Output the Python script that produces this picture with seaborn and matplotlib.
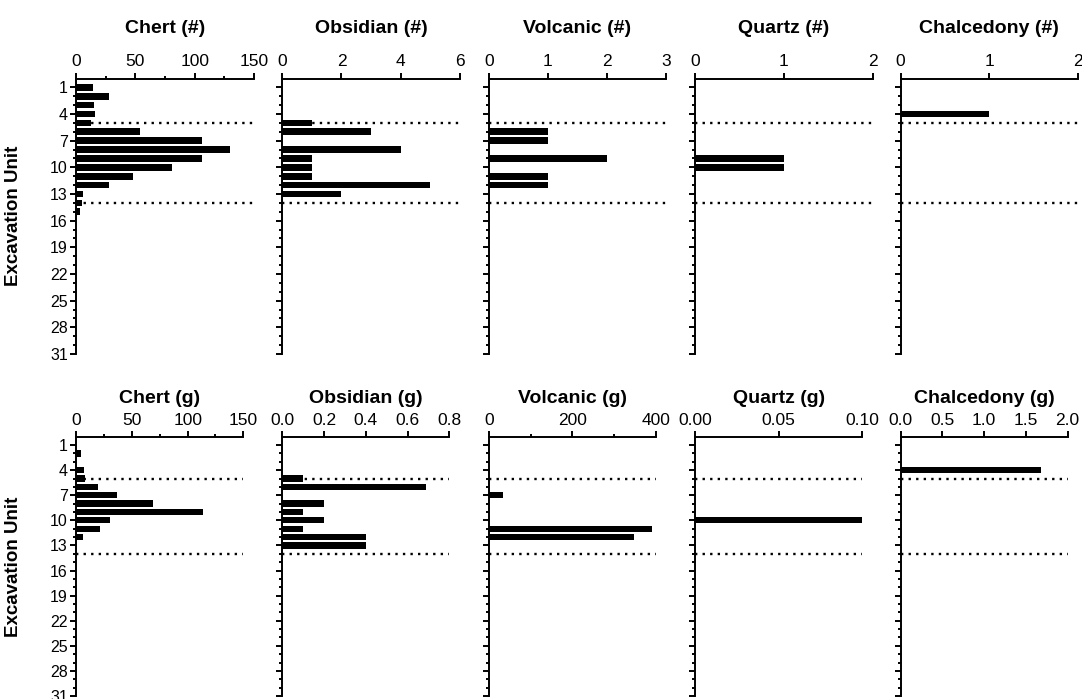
import numpy as np
import pandas as pd
import matplotlib
matplotlib.use('Agg')
import matplotlib.pyplot as plt
from matplotlib.ticker import MultipleLocator, FormatStrFormatter
import seaborn as sns

# Excavation units 1-16 (nothing recorded below 16)
units = list(range(1, 17))

# Counts (#)
chert_count = [14, 28, 15, 16, 12, 54, 106, 130, 106, 81, 48, 28, 6, 5, 3, 0]
obsidian_count = [0, 0, 0, 0, 1, 3, 0, 4, 1, 1, 1, 5, 2, 0, 0, 0]
volcanic_count = [0, 0, 0, 0, 0, 1, 1, 0, 2, 0, 1, 1, 0, 0, 0, 0]
quartz_count = [0, 0, 0, 0, 0, 0, 0, 0, 1, 1, 0, 0, 0, 0, 0, 0]
chalcedony_count = [0, 0, 0, 1, 0, 0, 0, 0, 0, 0, 0, 0, 0, 0, 0, 0]

# Weights (g)
chert_mass = [0, 4, 0, 6.6, 7.8, 19.7, 36.5, 69, 114, 30.5, 21.5, 6.3, 0, 0, 0, 0]
obsidian_mass = [0, 0, 0, 0, 0.1, 0.69, 0, 0.2, 0.1, 0.2, 0.1, 0.4, 0.4, 0, 0, 0]
volcanic_mass = [0, 0, 0, 0, 0, 0, 34, 0, 0, 0, 390, 348, 0, 0, 0, 0]
quartz_mass = [0, 0, 0, 0, 0, 0, 0, 0, 0, 0.1, 0, 0, 0, 0, 0, 0]
chalcedony_mass = [0, 0, 0, 1.68, 0, 0, 0, 0, 0, 0, 0, 0, 0, 0, 0, 0]

# stratigraphic breaks (dotted lines)
breaks = [5, 14]

top_titles = ['Chert (#)', 'Obsidian (#)', 'Volcanic (#)', 'Quartz (#)', 'Chalcedony (#)']
bottom_titles = ['Chert (g)', 'Obsidian (g)', 'Volcanic (g)', 'Quartz (g)', 'Chalcedony (g)']
top_series = [chert_count, obsidian_count, volcanic_count, quartz_count, chalcedony_count]
bottom_series = [chert_mass, obsidian_mass, volcanic_mass, quartz_mass, chalcedony_mass]

# x axis: (max, major step, minor step, label format)
top_axes = [(150, 50, 25, '%d'), (6, 2, None, '%d'), (3, 1, None, '%d'),
            (2, 1, None, '%d'), (2, 1, None, '%d')]
bottom_axes = [(150, 50, 25, '%d'), (0.8, 0.2, None, '%.1f'), (400, 200, 100, '%d'),
               (0.10, 0.05, None, '%.2f'), (2.0, 0.5, None, '%.1f')]

sns.set_theme(style='ticks')
plt.rcParams['font.family'] = ['Liberation Sans', 'DejaVu Sans']
plt.rcParams['text.color'] = 'black'
plt.rcParams['axes.labelcolor'] = 'black'
plt.rcParams['xtick.color'] = 'black'
plt.rcParams['ytick.color'] = 'black'

W, H = 1082, 699
fig = plt.figure(figsize=(W / 100, H / 100), dpi=100)

lefts = [76.3, 282.3, 488.8, 695.2, 900.5]
rows = [
    # (top px, bottom px, width px, title pad, titles, series, axis specs)
    (78.5, 354.0, 177.5, 15.5, top_titles, top_series, top_axes),
    (436.7, 696.0, 167.0, 7.0, bottom_titles, bottom_series, bottom_axes),
]

lw = 1.4
for top_px, bot_px, width_px, tpad, titles, series, specs in rows:
    for i in range(5):
        ax = fig.add_axes([lefts[i] / W, 1 - bot_px / H, width_px / W, (bot_px - top_px) / H])
        df = pd.DataFrame({'unit': units, 'value': series[i]})
        df = df[df['value'] > 0]
        for b in breaks:
            ax.axhline(b, color='black', linestyle=(0, (1, 2.2)), linewidth=1.7, zorder=1)
        sns.barplot(data=df, x='value', y='unit', orient='h', native_scale=True,
                    color='black', saturation=1, width=0.75, errorbar=None,
                    linewidth=0, ax=ax, zorder=3)

        xmax, major, minor, fmt = specs[i]
        ax.set_xlim(0, xmax)
        ax.set_ylim(31, 0)
        ax.xaxis.tick_top()
        ax.set_xticks(np.arange(0, xmax + major / 2, major))
        ax.xaxis.set_major_formatter(FormatStrFormatter(fmt))
        if minor:
            ax.xaxis.set_minor_locator(MultipleLocator(minor))
        ax.set_yticks(range(1, 32, 3))
        ax.set_yticks(range(1, 32), minor=True)

        for side in ['right', 'bottom']:
            ax.spines[side].set_visible(False)
        for side in ['left', 'top']:
            ax.spines[side].set_linewidth(lw)
            ax.spines[side].set_color('black')

        ax.tick_params(axis='x', which='major', direction='out', length=4.5, width=lw,
                       labelsize=12.5, pad=2, colors='black', top=True, bottom=False)
        ax.tick_params(axis='x', which='minor', direction='out', length=2.5, width=lw,
                       top=True, bottom=False)
        ax.tick_params(axis='y', which='major', direction='out', length=4.5, width=lw,
                       labelsize=11.5, pad=1.5, colors='black', labelleft=(i == 0))
        ax.tick_params(axis='y', which='minor', direction='out', length=2.5, width=lw)

        ax.set_xlabel('')
        ax.set_ylabel('')
        ax.set_title(titles[i], fontsize=14, fontweight='bold', pad=tpad, color='black')
        if i == 0:
            ax.set_ylabel('Excavation Unit', fontsize=13.5, fontweight='bold', color='black')
            ax.yaxis.set_label_coords(-(lefts[0] - 22) / width_px, 0.5)
        ax.set_facecolor('white')

fig.savefig('out.png', dpi=100, facecolor='white')
